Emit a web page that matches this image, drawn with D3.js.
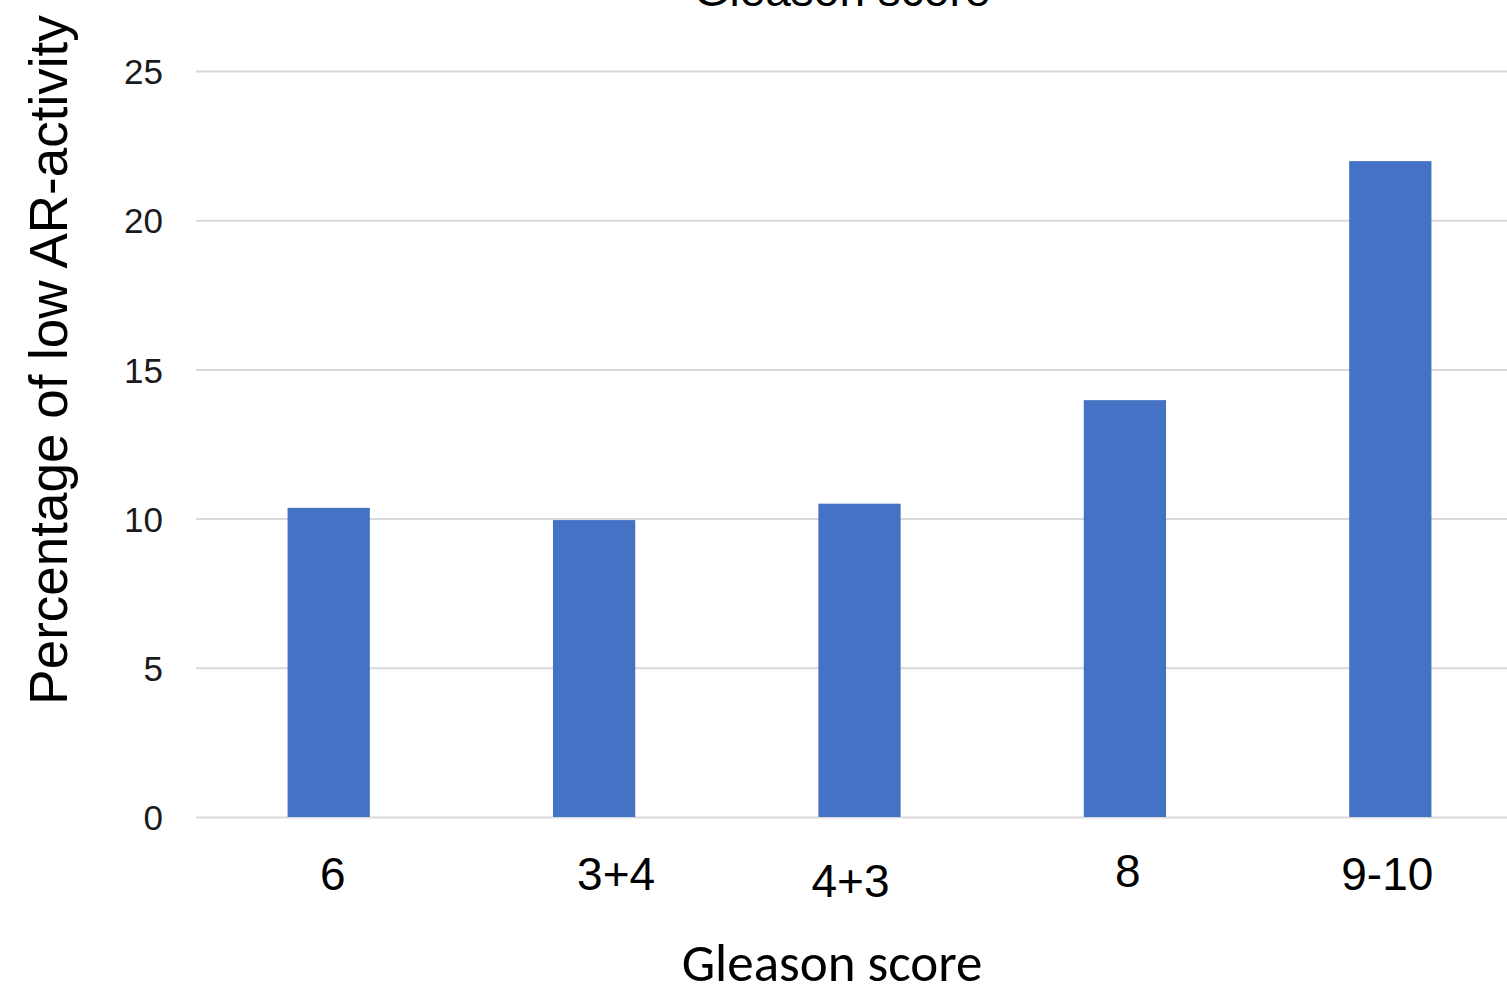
<!DOCTYPE html>
<html>
<head>
<meta charset="utf-8">
<script src="https://cdn.jsdelivr.net/npm/d3@7"></script>
<style>
  html, body { margin: 0; padding: 0; background: #fff; }
  svg { display: block; }
</style>
</head>
<body>
<svg id="chart" width="1507" height="994"></svg>
<script>
// ---- data ----
const categories = ["6", "3+4", "4+3", "8", "9-10"];
const values = [10.36, 9.95, 10.5, 13.97, 21.98];
const yTicks = [0, 5, 10, 15, 20, 25];
const titleText = "Gleason score";
const xAxisTitle = "Gleason score";
const yAxisTitle = "Percentage of low AR-activity";
// hand-placed label nudges seen in the reference (px)
const labelDx = [4, 22, -9, 3, -3];
const labelDy = [0, 0, 7, -3, 0];

// ---- layout ----
const svg = d3.select("#chart");
const plot = { left: 196, right: 1523, top: 71, bottom: 817 };

const x = d3.scaleBand()
  .domain(categories)
  .range([plot.left, plot.right])
  .paddingInner(0.69)
  .paddingOuter(0.345);

const y = d3.scaleLinear()
  .domain([0, 25])
  .range([plot.bottom, plot.top]);

// gridlines
const grid = svg.append("g")
  .attr("transform", `translate(${plot.left},0)`)
  .call(d3.axisLeft(y).tickValues(yTicks).tickSize(-(1507 - plot.left)).tickFormat(""));
grid.select(".domain").remove();
grid.selectAll(".tick line").attr("stroke", "#d9d9d9").attr("stroke-width", 2);

// y tick labels
const yAxis = svg.append("g")
  .attr("transform", `translate(163,0)`)
  .call(d3.axisLeft(y).tickValues(yTicks).tickSize(0).tickPadding(0));
yAxis.select(".domain").remove();
yAxis.selectAll("text")
  .attr("font-family", "'Liberation Sans', Arial, sans-serif")
  .attr("font-size", 35)
  .attr("fill", "#1a1a1a")
  .attr("dy", "0.36em");

// bars
svg.append("g").selectAll("rect")
  .data(values)
  .join("rect")
  .attr("x", (d, i) => x(categories[i]))
  .attr("width", x.bandwidth())
  .attr("y", d => y(d))
  .attr("height", d => y(0) - y(d))
  .attr("fill", "#4472C4");

// category labels
const xAxis = svg.append("g")
  .attr("transform", `translate(0,${plot.bottom})`)
  .call(d3.axisBottom(x).tickSize(0).tickPadding(0));
xAxis.select(".domain").remove();
xAxis.selectAll("text")
  .attr("font-family", "'Liberation Sans', Arial, sans-serif")
  .attr("font-size", 46)
  .attr("fill", "#000")
  .attr("dy", null)
  .attr("y", (d, i) => 73 + labelDy[i])
  .attr("x", (d, i) => labelDx[i]);

// x axis title
svg.append("text")
  .attr("x", 832)
  .attr("y", 981)
  .attr("text-anchor", "middle")
  .attr("font-family", "Carlito, Lato, 'Open Sans', sans-serif")
  .attr("font-size", 53)
  .attr("fill", "#000")
  .text(xAxisTitle);

// y axis title
svg.append("text")
  .attr("transform", "translate(67,360) rotate(-90)")
  .attr("text-anchor", "middle")
  .attr("font-family", "'Liberation Sans', Arial, sans-serif")
  .attr("font-size", 53)
  .attr("fill", "#000")
  .text(yAxisTitle);

// top title (cut off at the top edge, as in the reference)
svg.append("text")
  .attr("x", 842)
  .attr("y", 6)
  .attr("text-anchor", "middle")
  .attr("font-family", "'Liberation Sans', Arial, sans-serif")
  .attr("font-size", 46)
  .attr("fill", "#000")
  .text(titleText);
</script>
</body>
</html>
